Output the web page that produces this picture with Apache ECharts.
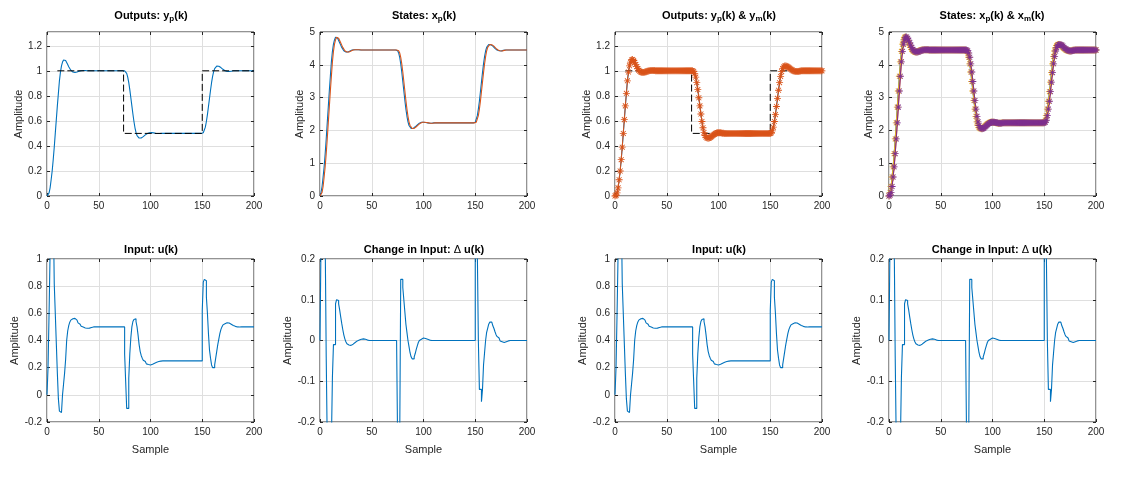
<!DOCTYPE html>
<html>
<head>
<meta charset="utf-8">
<script src="https://cdn.jsdelivr.net/npm/echarts@6/dist/echarts.min.js"></script>
<style>
  html, body { margin: 0; padding: 0; background: #fff; }
  #main { width: 1124px; height: 480px; }
</style>
</head>
<body>
<div id="main"></div>
<script>
// plant output y_p(k), k = 0..200 (model output y_m is the same trace)
var yp = [
  0, 0.005, 0.025, 0.065, 0.13, 0.2, 0.29, 0.39, 0.5, 0.61,
  0.72, 0.82, 0.92, 0.99, 1.04, 1.07, 1.087, 1.09, 1.082, 1.068,
  1.05, 1.033, 1.018, 1.005, 0.996, 0.99, 0.987, 0.986, 0.987, 0.99,
  0.993, 0.996, 0.999, 1.001, 1.002, 1.003, 1.003, 1.002, 1.002, 1.001,
  1.001, 1, 1, 1, 1, 1, 1, 1, 1, 1,
  1, 1, 1, 1, 1, 1, 1, 1, 1, 1,
  1, 1, 1, 1, 1, 1, 1, 1, 1, 1,
  1, 1, 1, 1, 1, 1, 0.995, 0.98, 0.95, 0.905,
  0.85, 0.785, 0.72, 0.655, 0.595, 0.545, 0.508, 0.483, 0.469, 0.463,
  0.461, 0.463, 0.468, 0.474, 0.481, 0.488, 0.494, 0.499, 0.503, 0.505,
  0.506, 0.506, 0.505, 0.504, 0.502, 0.501, 0.5, 0.499, 0.499, 0.499,
  0.5, 0.5, 0.5, 0.5, 0.5, 0.5, 0.5, 0.5, 0.5, 0.5,
  0.5, 0.5, 0.5, 0.5, 0.5, 0.5, 0.5, 0.5, 0.5, 0.5,
  0.5, 0.5, 0.5, 0.5, 0.5, 0.5, 0.5, 0.5, 0.5, 0.5,
  0.5, 0.5, 0.5, 0.5, 0.5, 0.5, 0.5, 0.5, 0.5, 0.5,
  0.5, 0.505, 0.52, 0.55, 0.595, 0.65, 0.715, 0.78, 0.845, 0.905,
  0.955, 0.993, 1.018, 1.031, 1.038, 1.039, 1.037, 1.033, 1.026, 1.019,
  1.012, 1.006, 1.001, 0.998, 0.995, 0.994, 0.994, 0.995, 0.997, 0.998,
  1, 1.001, 1.001, 1.001, 1.001, 1, 1, 1, 1, 1,
  1, 1, 1, 1, 1, 1, 1, 1, 1, 1,
  1
];

// states x_p1 (leads) and x_p2 (model states x_m are the same traces)
var xp1 = [
  0, 0.11, 0.29, 0.58, 0.89, 1.29, 1.74, 2.23, 2.71, 3.2,
  3.65, 4.09, 4.41, 4.63, 4.76, 4.84, 4.85, 4.81, 4.75, 4.67,
  4.6, 4.53, 4.47, 4.43, 4.41, 4.39, 4.39, 4.39, 4.41, 4.42,
  4.43, 4.45, 4.45, 4.46, 4.46, 4.46, 4.46, 4.46, 4.45, 4.45,
  4.45, 4.45, 4.45, 4.45, 4.45, 4.45, 4.45, 4.45, 4.45, 4.45,
  4.45, 4.45, 4.45, 4.45, 4.45, 4.45, 4.45, 4.45, 4.45, 4.45,
  4.45, 4.45, 4.45, 4.45, 4.45, 4.45, 4.45, 4.45, 4.45, 4.45,
  4.45, 4.45, 4.45, 4.45, 4.45, 4.43, 4.36, 4.23, 4.03, 3.78,
  3.49, 3.2, 2.91, 2.65, 2.43, 2.26, 2.15, 2.09, 2.06, 2.05,
  2.06, 2.08, 2.11, 2.14, 2.17, 2.2, 2.22, 2.24, 2.25, 2.25,
  2.25, 2.25, 2.24, 2.23, 2.23, 2.22, 2.22, 2.22, 2.22, 2.23,
  2.23, 2.23, 2.23, 2.23, 2.23, 2.23, 2.23, 2.23, 2.23, 2.23,
  2.23, 2.23, 2.23, 2.23, 2.23, 2.23, 2.23, 2.23, 2.23, 2.23,
  2.23, 2.23, 2.23, 2.23, 2.23, 2.23, 2.23, 2.23, 2.23, 2.23,
  2.23, 2.23, 2.23, 2.23, 2.23, 2.23, 2.23, 2.23, 2.23, 2.23,
  2.25, 2.31, 2.45, 2.65, 2.89, 3.18, 3.47, 3.76, 4.03, 4.25,
  4.42, 4.53, 4.59, 4.62, 4.62, 4.61, 4.6, 4.57, 4.53, 4.5,
  4.48, 4.45, 4.44, 4.43, 4.42, 4.42, 4.43, 4.44, 4.44, 4.45,
  4.45, 4.45, 4.45, 4.45, 4.45, 4.45, 4.45, 4.45, 4.45, 4.45,
  4.45, 4.45, 4.45, 4.45, 4.45, 4.45, 4.45, 4.45, 4.45, 4.45,
  4.45
];
var xp2 = [
  0, 0.02, 0.11, 0.29, 0.58, 0.89, 1.29, 1.74, 2.23, 2.71,
  3.2, 3.65, 4.09, 4.41, 4.63, 4.76, 4.84, 4.85, 4.81, 4.75,
  4.67, 4.6, 4.53, 4.47, 4.43, 4.41, 4.39, 4.39, 4.39, 4.41,
  4.42, 4.43, 4.45, 4.45, 4.46, 4.46, 4.46, 4.46, 4.46, 4.45,
  4.45, 4.45, 4.45, 4.45, 4.45, 4.45, 4.45, 4.45, 4.45, 4.45,
  4.45, 4.45, 4.45, 4.45, 4.45, 4.45, 4.45, 4.45, 4.45, 4.45,
  4.45, 4.45, 4.45, 4.45, 4.45, 4.45, 4.45, 4.45, 4.45, 4.45,
  4.45, 4.45, 4.45, 4.45, 4.45, 4.45, 4.43, 4.36, 4.23, 4.03,
  3.78, 3.49, 3.2, 2.91, 2.65, 2.43, 2.26, 2.15, 2.09, 2.06,
  2.05, 2.06, 2.08, 2.11, 2.14, 2.17, 2.2, 2.22, 2.24, 2.25,
  2.25, 2.25, 2.25, 2.24, 2.23, 2.23, 2.22, 2.22, 2.22, 2.22,
  2.23, 2.23, 2.23, 2.23, 2.23, 2.23, 2.23, 2.23, 2.23, 2.23,
  2.23, 2.23, 2.23, 2.23, 2.23, 2.23, 2.23, 2.23, 2.23, 2.23,
  2.23, 2.23, 2.23, 2.23, 2.23, 2.23, 2.23, 2.23, 2.23, 2.23,
  2.23, 2.23, 2.23, 2.23, 2.23, 2.23, 2.23, 2.23, 2.23, 2.23,
  2.23, 2.25, 2.31, 2.45, 2.65, 2.89, 3.18, 3.47, 3.76, 4.03,
  4.25, 4.42, 4.53, 4.59, 4.62, 4.62, 4.61, 4.6, 4.57, 4.53,
  4.5, 4.48, 4.45, 4.44, 4.43, 4.42, 4.42, 4.43, 4.44, 4.44,
  4.45, 4.45, 4.45, 4.45, 4.45, 4.45, 4.45, 4.45, 4.45, 4.45,
  4.45, 4.45, 4.45, 4.45, 4.45, 4.45, 4.45, 4.45, 4.45, 4.45,
  4.45
];

// input u(k)
var u = [
  0, 0.2, 0.6, 1.05, 1.3, 1.45, 1.41, 0.82, 0.6, 0.38,
  0.16, -0.03, -0.12, -0.13, -0.13, 0, 0.08, 0.16, 0.26, 0.4,
  0.47, 0.51, 0.535, 0.55, 0.56, 0.565, 0.563, 0.558, 0.55, 0.54,
  0.53, 0.52, 0.512, 0.505, 0.499, 0.495, 0.492, 0.49, 0.49, 0.49,
  0.491, 0.493, 0.496, 0.499, 0.5, 0.5, 0.5, 0.5, 0.5, 0.5,
  0.5, 0.5, 0.5, 0.5, 0.5, 0.5, 0.5, 0.5, 0.5, 0.5,
  0.5, 0.5, 0.5, 0.5, 0.5, 0.5, 0.5, 0.5, 0.5, 0.5,
  0.5, 0.5, 0.5, 0.5, 0.5, 0.3, 0.1, -0.1, -0.1, 0.12,
  0.3, 0.42, 0.5, 0.54, 0.555, 0.56, 0.54, 0.5, 0.44, 0.37,
  0.32, 0.29, 0.27, 0.255, 0.245, 0.235, 0.228, 0.223, 0.22, 0.22,
  0.222, 0.225, 0.229, 0.233, 0.237, 0.24, 0.243, 0.245, 0.247, 0.248,
  0.249, 0.25, 0.25, 0.25, 0.25, 0.25, 0.25, 0.25, 0.25, 0.25,
  0.25, 0.25, 0.25, 0.25, 0.25, 0.25, 0.25, 0.25, 0.25, 0.25,
  0.25, 0.25, 0.25, 0.25, 0.25, 0.25, 0.25, 0.25, 0.25, 0.25,
  0.25, 0.25, 0.25, 0.25, 0.25, 0.25, 0.25, 0.25, 0.25, 0.25,
  0.62, 0.83, 0.85, 0.84, 0.72, 0.6, 0.45, 0.33, 0.27, 0.22,
  0.2, 0.2, 0.22, 0.27, 0.32, 0.37, 0.41, 0.45, 0.48, 0.5,
  0.515, 0.524, 0.529, 0.531, 0.531, 0.529, 0.525, 0.52, 0.515, 0.511,
  0.507, 0.504, 0.502, 0.5, 0.499, 0.499, 0.5, 0.5, 0.5, 0.5,
  0.5, 0.5, 0.5, 0.5, 0.5, 0.5, 0.5, 0.5, 0.5, 0.5,
  0.5
];

// change in input du(k)
var du = [
  0, 0.25, 0.4, 0.45, 0.3, 0.25, -0.04, -0.25, -0.25, -0.25,
  -0.25, -0.25, -0.09, -0.01, -0.01, 0.09, 0.1, 0.098, 0.09, 0.075,
  0.058, 0.042, 0.027, 0.014, 0.004, -0.003, -0.008, -0.011, -0.012, -0.012,
  -0.011, -0.009, -0.007, -0.005, -0.003, -0.001, 0, 0.001, 0.002, 0.003,
  0.004, 0.004, 0.004, 0.003, 0.002, 0.001, 0, 0, 0, 0,
  0, 0, 0, 0, 0, 0, 0, 0, 0, 0,
  0, 0, 0, 0, 0, 0, 0, 0, 0, 0,
  0, 0, 0, 0, 0, -0.25, -0.25, -0.25, 0.15, 0.15,
  0.13, 0.1, 0.07, 0.04, 0.02, 0, -0.015, -0.03, -0.04, -0.045,
  -0.045, -0.04, -0.032, -0.022, -0.013, -0.005, 0, 0.003, 0.005, 0.006,
  0.006, 0.005, 0.004, 0.003, 0.002, 0.001, 0, 0, 0, 0,
  0, 0, 0, 0, 0, 0, 0, 0, 0, 0,
  0, 0, 0, 0, 0, 0, 0, 0, 0, 0,
  0, 0, 0, 0, 0, 0, 0, 0, 0, 0,
  0, 0, 0, 0, 0, 0, 0, 0, 0, 0,
  0.4, 0.25, 0.22, 0, -0.12, -0.12, -0.15, -0.12, -0.06, -0.03,
  0, 0.02, 0.03, 0.04, 0.045, 0.045, 0.042, 0.036, 0.03, 0.022,
  0.015, 0.01, 0.006, 0.002, -0.001, -0.003, -0.005, -0.005, -0.004, -0.003,
  -0.002, -0.001, 0, 0, 0, 0, 0, 0, 0, 0,
  0, 0, 0, 0, 0, 0, 0, 0, 0, 0,
  0
];

// set point (dashed), step changes
var refK = [10, 74, 150, 200];
var refV = [1, 0.5, 1, 1];

var xTicks = { min: 0, max: 200, step: 50 };

var FONT = '"Liberation Sans", Arial, Helvetica, sans-serif';
var TXT = '#262626';
var blue = '#0072BD', orange = '#D95319', yellow = '#EDB120', purple = '#7E2F8E';
var star = 'path://M-1.2,-10L1.2,-10L1.2,10L-1.2,10Z M-10,-1.2L10,-1.2L10,1.2L-10,1.2Z ' +
  'M-7.9,-6.2L-6.2,-7.9L7.9,6.2L6.2,7.9Z M6.2,-7.9L7.9,-6.2L-6.2,7.9L-7.9,6.2Z';

function pairs(ys) {
  return ys.map(function(v, i) { return [i, v]; });
}
var refData = refK.map(function(k, i) { return [k, refV[i]]; });

function line(ys, color) {
  return { type: 'line', data: pairs(ys), showSymbol: false, lineStyle: { color: color, width: 1.1 } };
}
function marked(ys, color) {
  return {
    type: 'line', data: pairs(ys), symbol: star, symbolSize: 7, showSymbol: true,
    itemStyle: { color: color }, lineStyle: { color: color, width: 1 }
  };
}
function stairs(ys) {
  return { type: 'line', step: 'end', data: pairs(ys), showSymbol: false, lineStyle: { color: blue, width: 1.1 } };
}
function ref() {
  return { type: 'line', step: 'end', data: refData, showSymbol: false, lineStyle: { color: '#000', width: 1, type: [7, 3] } };
}

var lefts = [47, 320, 615, 889];
var tops = [32, 259];
var heights = [164, 163];
var centers = [151, 424, 719, 992];

var panels = [
  { row: 0, col: 0, title: '{b|Outputs: y}{s|p}{b|(k)}', min: 0, max: 1.31, step: 0.2, gap: 22,
    series: [line(yp, blue), ref()] },
  { row: 0, col: 1, title: '{b|States: x}{s|p}{b|(k)}', min: 0, max: 5, step: 1, gap: 15,
    series: [line(xp1, blue), line(xp2, orange)] },
  { row: 0, col: 2, title: '{b|Outputs: y}{s|p}{b|(k) & y}{s|m}{b|(k)}', min: 0, max: 1.31, step: 0.2, gap: 22,
    series: [line(yp, blue), marked(yp, orange), ref()] },
  { row: 0, col: 3, title: '{b|States: x}{s|p}{b|(k) & x}{s|m}{b|(k)}', min: 0, max: 5, step: 1, gap: 15,
    series: [line(xp1, blue), line(xp2, orange), marked(xp1, yellow), marked(xp2, purple)] },
  { row: 1, col: 0, title: '{b|Input: u(k)}', min: -0.2, max: 1, step: 0.2, gap: 25,
    series: [stairs(u)] },
  { row: 1, col: 1, title: '{b|Change in Input: }{d|Δ}{b| u(k)}', min: -0.2, max: 0.2, step: 0.1, gap: 25,
    series: [stairs(du)] },
  { row: 1, col: 2, title: '{b|Input: u(k)}', min: -0.2, max: 1, step: 0.2, gap: 25,
    series: [stairs(u)] },
  { row: 1, col: 3, title: '{b|Change in Input: }{d|Δ}{b| u(k)}', min: -0.2, max: 0.2, step: 0.1, gap: 25,
    series: [stairs(du)] }
];

var option = {
  backgroundColor: '#fff',
  animation: false,
  title: [], grid: [], xAxis: [], yAxis: [], series: []
};

var tick = { show: true, inside: true, length: 3, lineStyle: { color: TXT } };

panels.forEach(function(p, i) {
  option.title.push({
    text: p.title, left: centers[p.col], top: p.row === 0 ? 9 : 243, textAlign: 'center', padding: 0,
    textStyle: {
      rich: {
        b: { fontFamily: FONT, fontSize: 11, fontWeight: 'bold', color: '#000', lineHeight: 14 },
        s: { fontFamily: FONT, fontSize: 8, fontWeight: 'bold', color: '#000', lineHeight: 10, padding: [6, 0, 0, 0] },
        d: { fontFamily: FONT, fontSize: 11, fontWeight: 'normal', color: '#000', lineHeight: 14 }
      }
    }
  });
  option.grid.push({
    left: lefts[p.col], top: tops[p.row], width: 207, height: heights[p.row],
    show: true, borderColor: TXT, borderWidth: 1, backgroundColor: '#fff',
    containLabel: false, outerBoundsMode: 'none'
  });
  var bottom = p.row === 1;
  option.xAxis.push({
    type: 'value', gridIndex: i, position: 'bottom', min: xTicks.min, max: xTicks.max, interval: xTicks.step,
    name: bottom ? 'Sample' : '', nameLocation: 'middle', nameGap: 22,
    nameTextStyle: { fontFamily: FONT, fontSize: 11, color: TXT },
    axisLine: { show: false, onZero: false },
    axisTick: tick,
    axisLabel: { fontFamily: FONT, fontSize: 10, color: TXT, margin: 5 },
    splitLine: { show: true, lineStyle: { color: '#dfdfdf', width: 1 } }
  });
  option.xAxis.push({
    type: 'value', gridIndex: i, position: 'top', min: xTicks.min, max: xTicks.max, interval: xTicks.step,
    axisLine: { show: false, onZero: false }, axisLabel: { show: false }, splitLine: { show: false },
    axisTick: tick
  });
  option.yAxis.push({
    type: 'value', gridIndex: i, position: 'left', min: p.min, max: p.max, interval: p.step,
    name: 'Amplitude', nameLocation: 'middle', nameGap: p.gap, nameRotate: 90,
    nameTextStyle: { fontFamily: FONT, fontSize: 11, color: TXT },
    axisLine: { show: false, onZero: false },
    axisTick: tick,
    axisLabel: { fontFamily: FONT, fontSize: 10, color: TXT, margin: 5, showMaxLabel: p.max !== 1.31 },
    splitLine: { show: true, lineStyle: { color: '#dfdfdf', width: 1 } }
  });
  option.yAxis.push({
    type: 'value', gridIndex: i, position: 'right', min: p.min, max: p.max, interval: p.step,
    axisLine: { show: false, onZero: false }, axisLabel: { show: false }, splitLine: { show: false },
    axisTick: tick
  });
  p.series.forEach(function(s) {
    s.xAxisIndex = 2 * i;
    s.yAxisIndex = 2 * i;
    s.silent = true;
    option.series.push(s);
  });
});

var chart = echarts.init(document.getElementById('main'));
chart.setOption(option);
</script>
</body>
</html>
